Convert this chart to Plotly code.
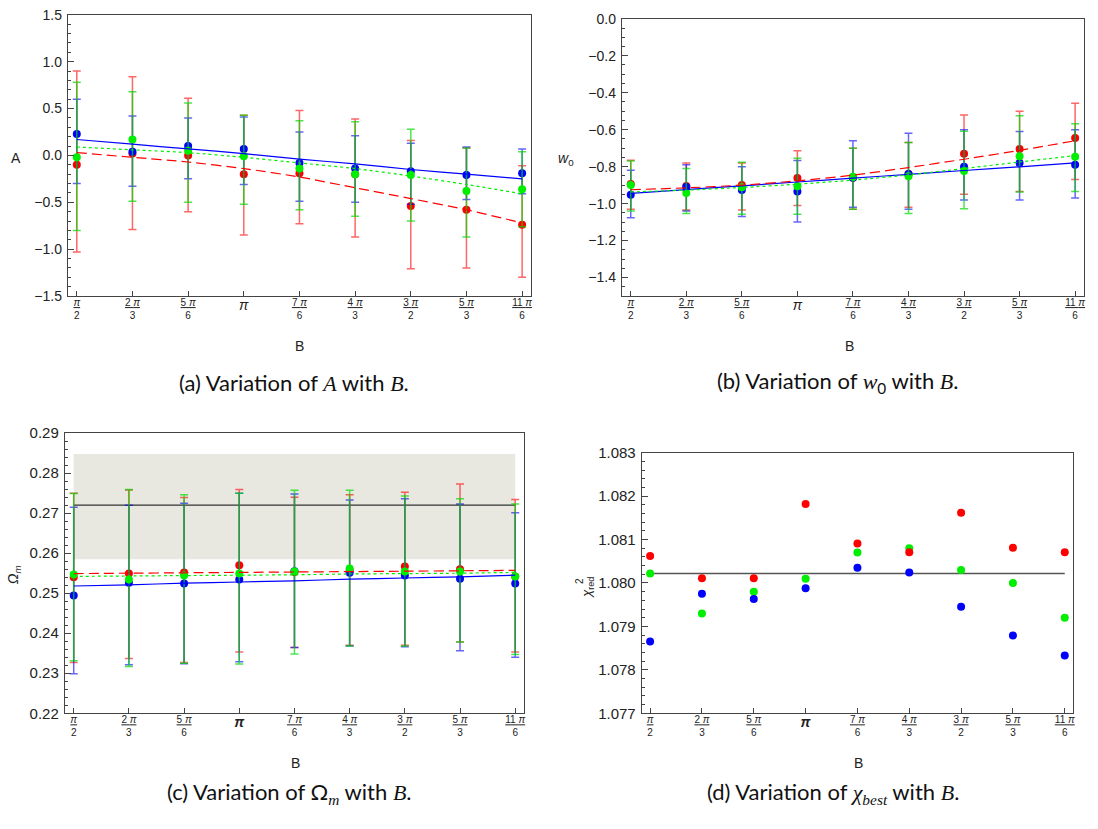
import numpy as np
import plotly.graph_objects as go

# ---------------- data ----------------
B = [np.pi/2, 2*np.pi/3, 5*np.pi/6, np.pi, 7*np.pi/6, 4*np.pi/3, 3*np.pi/2, 5*np.pi/3, 11*np.pi/6]
B_num = ["π", "2 π", "5 π", "π", "7 π", "4 π", "3 π", "5 π", "11 π"]
B_den = ["2", "3", "6", "", "6", "3", "2", "3", "6"]

# (a) A vs B
A_red = [-0.10, 0.02, 0.00, -0.20, -0.19, -0.20, -0.54, -0.58, -0.74]
A_red_hi = [0.90, 0.84, 0.61, 0.43, 0.48, 0.39, 0.16, 0.08, -0.11]
A_red_lo = [-1.03, -0.79, -0.60, -0.85, -0.73, -0.87, -1.21, -1.20, -1.30]
A_blue = [0.23, 0.04, 0.10, 0.07, -0.08, -0.14, -0.17, -0.21, -0.19]
A_blue_hi = [0.60, 0.42, 0.40, 0.41, 0.25, 0.21, 0.13, 0.09, 0.07]
A_blue_lo = [-0.30, -0.33, -0.25, -0.31, -0.49, -0.50, -0.52, -0.47, -0.41]
A_green = [-0.02, 0.17, 0.05, -0.01, -0.14, -0.20, -0.21, -0.38, -0.36]
A_green_hi = [0.78, 0.68, 0.56, 0.43, 0.37, 0.36, 0.28, 0.08, 0.04]
A_green_lo = [-0.80, -0.49, -0.50, -0.52, -0.58, -0.65, -0.70, -0.87, -0.76]
A_fit_red = [0.03, -0.02, -0.07, -0.14, -0.23, -0.345, -0.46, -0.58, -0.72]
A_fit_blue = [0.17, 0.12, 0.07, 0.02, -0.04, -0.09, -0.15, -0.20, -0.25]
A_fit_green = [0.09, 0.06, 0.03, -0.02, -0.08, -0.14, -0.22, -0.31, -0.41]

# (b) w0 vs B
W_red = [-0.894, -0.905, -0.900, -0.862, -0.860, -0.840, -0.730, -0.705, -0.645]
W_red_hi = [-0.765, -0.780, -0.780, -0.714, -0.700, -0.670, -0.520, -0.500, -0.457]
W_red_lo = [-1.030, -1.035, -1.035, -1.010, -1.030, -1.020, -0.950, -0.935, -0.870]
W_blue = [-0.952, -0.910, -0.926, -0.935, -0.860, -0.840, -0.800, -0.780, -0.790]
W_blue_hi = [-0.820, -0.790, -0.800, -0.767, -0.660, -0.620, -0.600, -0.610, -0.600]
W_blue_lo = [-1.076, -1.040, -1.070, -1.100, -1.020, -1.030, -0.980, -0.980, -0.970]
W_green = [-0.900, -0.943, -0.912, -0.906, -0.855, -0.852, -0.824, -0.744, -0.746]
W_green_hi = [-0.770, -0.810, -0.776, -0.755, -0.700, -0.670, -0.608, -0.525, -0.568]
W_green_lo = [-1.040, -1.053, -1.058, -1.058, -1.030, -1.053, -1.028, -0.937, -0.935]
W_fit_red = [-0.925, -0.915, -0.900, -0.877, -0.846, -0.805, -0.760, -0.712, -0.660]
W_fit_blue = [-0.945, -0.924, -0.904, -0.883, -0.862, -0.842, -0.821, -0.801, -0.780]
W_fit_green = [-0.937, -0.927, -0.913, -0.895, -0.873, -0.845, -0.810, -0.775, -0.740]

# (c) Omega_m vs B
Om_red = [0.2540, 0.2549, 0.2552, 0.2570, 0.2553, 0.2557, 0.2567, 0.2560, 0.2542]
Om_red_hi = [0.2750, 0.2758, 0.2739, 0.2759, 0.2740, 0.2746, 0.2752, 0.2773, 0.2734]
Om_red_lo = [0.2327, 0.2337, 0.2327, 0.2353, 0.2364, 0.2370, 0.2370, 0.2378, 0.2353]
Om_blue = [0.2494, 0.2526, 0.2524, 0.2534, 0.2555, 0.2551, 0.2544, 0.2536, 0.2524]
Om_blue_hi = [0.2715, 0.2720, 0.2725, 0.2750, 0.2748, 0.2733, 0.2736, 0.2723, 0.2701]
Om_blue_lo = [0.2299, 0.2321, 0.2324, 0.2329, 0.2364, 0.2368, 0.2366, 0.2356, 0.2340]
Om_green = [0.2547, 0.2534, 0.2544, 0.2549, 0.2554, 0.2562, 0.2554, 0.2554, 0.2542]
Om_green_hi = [0.2749, 0.2759, 0.2746, 0.2750, 0.2757, 0.2757, 0.2743, 0.2736, 0.2723]
Om_green_lo = [0.2331, 0.2317, 0.2325, 0.2323, 0.2348, 0.2368, 0.2368, 0.2378, 0.2347]
Om_fit_red = [0.2549, 0.2550, 0.2551, 0.2552, 0.2553, 0.2554, 0.2555, 0.2556, 0.2557]
Om_fit_blue = [0.2518, 0.2521, 0.2525, 0.2528, 0.2531, 0.2535, 0.2538, 0.2541, 0.2545]
Om_fit_green = [0.2542, 0.2543, 0.2544, 0.2545, 0.2546, 0.2548, 0.2549, 0.2550, 0.2552]
Om_ref = 0.272
Om_band = [0.2585, 0.2848]

# (d) reduced chi^2 vs B
chi_red = [1.08062, 1.08011, 1.08011, 1.08182, 1.08091, 1.08071, 1.08162, 1.08081, 1.08071]
chi_green = [1.08022, 1.07930, 1.07980, 1.08010, 1.08070, 1.08080, 1.08030, 1.08000, 1.07920]
chi_blue = [1.07865, 1.07975, 1.07963, 1.07988, 1.08035, 1.08024, 1.07945, 1.07879, 1.07833]
chi_ref = 1.08022

# ---------------- style ----------------
RED, BLUE, GREEN = "#ff0000", "#0000ff", "#00ee00"
ERR = {RED: "rgba(255,0,0,0.6)", BLUE: "rgba(0,0,255,0.6)", GREEN: "rgba(0,220,0,0.7)"}
FRAME = "#444444"
TICKFONT = "Liberation Sans"
W, H = 1098, 829


def px_dom(a, b, total):
    return [a / total, b / total]


def pyd(top, bottom):
    return [1 - bottom / H, 1 - top / H]


def frac_labels(bold_pi=False):
    out = []
    for n, d in zip(B_num, B_den):
        nn = n.replace("π", "<i>π</i>")
        if d == "":
            p = "<b><i>π</i></b>" if bold_pi else "<i>π</i>"
            out.append("<sub><sub><span style='font-size:14px'>%s</span></sub></sub>" % p)
        else:
            out.append("<u>%s</u><br>%s" % (nn, d))
    return out


fig = go.Figure()

domains = {
    1: (px_dom(68, 532, W), pyd(6, 293)),
    2: (px_dom(623, 1086, W), pyd(10, 293)),
    3: (px_dom(65, 525, W), pyd(433, 719)),
    4: (px_dom(643, 1075, W), pyd(453, 719)),
}
pad = 0.02 * (B[-1] - B[0])
yinfo = {
    1: dict(range=[-1.5, 1.5], dtick=0.5, minor=0.1, fmt=".1f", tick0=-1.5, fs=14),
    2: dict(range=[-1.5, 0.0], dtick=0.2, minor=0.05, fmt=".1f", tick0=0.0, fs=14),
    3: dict(range=[0.22, 0.29], dtick=0.01, minor=0.002, fmt=".2f", tick0=0.22, fs=15),
    4: dict(range=[1.077, 1.083], dtick=0.001, minor=0.0002, fmt=".3f", tick0=1.077, fs=15),
}

layout = {}
for i in range(1, 5):
    xd, yd = domains[i]
    sfx = "" if i == 1 else str(i)
    yi = yinfo[i]
    layout["xaxis" + sfx] = dict(
        domain=xd, anchor="y" + sfx, range=[B[0] - pad, B[-1] + pad],
        tickmode="array", tickvals=B, ticktext=frac_labels(bold_pi=(i >= 3)),
        ticks="inside", ticklen=5, tickwidth=1, tickcolor=FRAME,
        showline=True, linecolor=FRAME, linewidth=1.2, mirror=True,
        showgrid=False, zeroline=False,
        tickfont=dict(family=TICKFONT, size=10, color="#222"),
        ticklabelstandoff=-3,
    )
    layout["yaxis" + sfx] = dict(
        domain=yd, anchor="x" + sfx, range=yi["range"],
        tickmode="linear", tick0=yi["tick0"], dtick=yi["dtick"], tickformat=yi["fmt"],
        ticks="inside", ticklen=6, tickwidth=1, tickcolor=FRAME,
        minor=dict(ticks="inside", ticklen=3, dtick=yi["minor"], tick0=yi["tick0"],
                   tickcolor=FRAME, showgrid=False),
        showline=True, linecolor=FRAME, linewidth=1.2, mirror=True,
        showgrid=False, zeroline=False,
        tickfont=dict(family=TICKFONT, size=yi["fs"], color="#222"),
        ticklabelstandoff=2,
    )


def add_err(xa, ya, y, hi, lo, color, name):
    up = [h - v for h, v in zip(hi, y)]
    dn = [v - l for v, l in zip(y, lo)]
    fig.add_trace(go.Scatter(
        x=B, y=y, mode="markers", name=name, xaxis=xa, yaxis=ya,
        marker=dict(color=color, size=8),
        error_y=dict(type="data", symmetric=False, array=up, arrayminus=dn,
                     color=ERR[color], thickness=1.5, width=4),
        showlegend=False))


def add_fit(xa, ya, y, color, dash):
    fig.add_trace(go.Scatter(
        x=B, y=y, mode="lines", xaxis=xa, yaxis=ya,
        line=dict(color=color, width=1.2, dash=dash, shape="spline", smoothing=0.6),
        showlegend=False, hoverinfo="skip"))


# panel (c) band and reference lines first (background)
fig.add_trace(go.Scatter(
    x=[B[0], B[-1], B[-1], B[0], B[0]],
    y=[Om_band[0], Om_band[0], Om_band[1], Om_band[1], Om_band[0]],
    fill="toself", fillcolor="#e8e8e0", mode="none", xaxis="x3", yaxis="y3",
    showlegend=False, hoverinfo="skip"))
fig.add_trace(go.Scatter(
    x=[B[0], B[-1]], y=[Om_ref, Om_ref], mode="lines", xaxis="x3", yaxis="y3",
    line=dict(color="#333333", width=1.2), showlegend=False, hoverinfo="skip"))
fig.add_trace(go.Scatter(
    x=[B[0], B[-1]], y=[chi_ref, chi_ref], mode="lines", xaxis="x4", yaxis="y4",
    line=dict(color="#555555", width=1.5), showlegend=False, hoverinfo="skip"))

panels = [
    ("x", "y", (A_red, A_red_hi, A_red_lo), (A_blue, A_blue_hi, A_blue_lo),
     (A_green, A_green_hi, A_green_lo), A_fit_red, A_fit_blue, A_fit_green),
    ("x2", "y2", (W_red, W_red_hi, W_red_lo), (W_blue, W_blue_hi, W_blue_lo),
     (W_green, W_green_hi, W_green_lo), W_fit_red, W_fit_blue, W_fit_green),
    ("x3", "y3", (Om_red, Om_red_hi, Om_red_lo), (Om_blue, Om_blue_hi, Om_blue_lo),
     (Om_green, Om_green_hi, Om_green_lo), Om_fit_red, Om_fit_blue, Om_fit_green),
]
for xa, ya, r, b, g, fr, fb, fg in panels:
    add_err(xa, ya, *r, RED, "red")
    add_err(xa, ya, *b, BLUE, "blue")
    add_err(xa, ya, *g, GREEN, "green")
    add_fit(xa, ya, fb, BLUE, "solid")
    add_fit(xa, ya, fr, RED, "10px,5px")
    add_fit(xa, ya, fg, GREEN, "3px,3px")

for yv, c in [(chi_green, GREEN), (chi_blue, BLUE), (chi_red, RED)]:
    fig.add_trace(go.Scatter(x=B, y=yv, mode="markers", xaxis="x4", yaxis="y4",
                             marker=dict(color=c, size=8), showlegend=False))

LBL = dict(family=TICKFONT, size=14, color="#222")
CAP = dict(family="Lato", size=22, color="#111")
MATH = "font-family:Liberation Serif;font-style:italic"


def ann(text, x, y, font, angle=0, xa="center", ya="middle"):
    return dict(text=text, x=x / W, y=1 - y / H, xref="paper", yref="paper",
                showarrow=False, font=font, textangle=angle, xanchor=xa, yanchor=ya)


annotations = [
    ann("A", 16, 152, LBL),
    ann("<i>w</i><sub>0</sub>", 567, 153, LBL),
    ann("<i>Ω</i><sub><i>m</i></sub>", 14, 577, LBL, angle=-90),
    ann("<i>χ</i><sub>red</sub>", 589, 590, dict(family=TICKFONT, size=13, color="#222"), angle=-90),
    ann("2", 580, 584, dict(family=TICKFONT, size=10, color="#222"), angle=-90),
    ann("B", 300, 344, LBL),
    ann("B", 851, 344, LBL),
    ann("B", 296, 770, LBL),
    ann("B", 860, 770, LBL),
    ann("(a) Variation of <span style='%s'>A</span> with <span style='%s'>B</span>." % (MATH, MATH), 295, 381, CAP),
    ann("(b) Variation of <span style='%s'>w</span><sub>0</sub> with <span style='%s'>B</span>." % (MATH, MATH), 840, 381, CAP),
    ann("(c) Variation of Ω<sub><span style='%s'>m</span></sub> with <span style='%s'>B</span>." % (MATH, MATH), 290, 800, CAP),
    ann("(d) Variation of <span style='%s'>χ</span><sub><span style='%s'>best</span></sub> with <span style='%s'>B</span>." % (MATH, MATH, MATH), 835, 800, CAP),
]

fig.update_layout(
    **layout,
    width=W, height=H, margin=dict(l=0, r=0, t=0, b=0),
    paper_bgcolor="white", plot_bgcolor="white",
    annotations=annotations, showlegend=False,
)

fig.write_html("out.html")
